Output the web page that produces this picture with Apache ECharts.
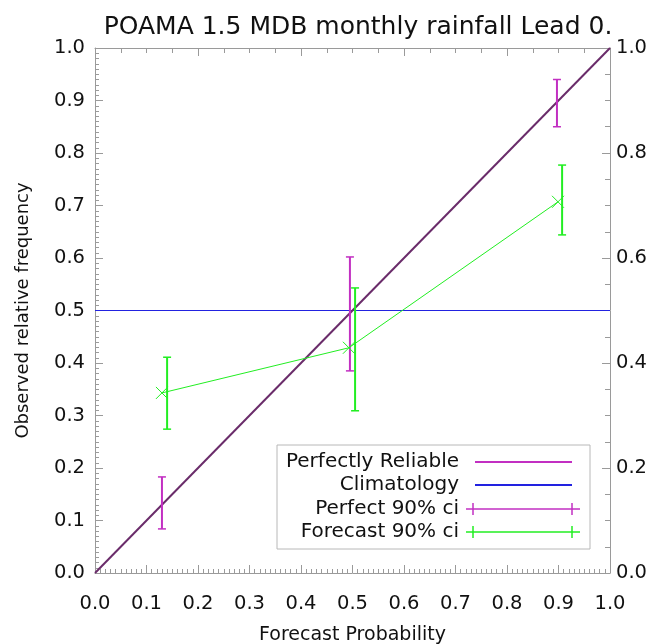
<!DOCTYPE html>
<html>
<head>
<meta charset="utf-8">
<script src="https://cdn.jsdelivr.net/npm/echarts@6/dist/echarts.min.js"></script>
<style>
html,body{margin:0;padding:0;background:#fff;}
#chart{width:652px;height:644px;}
</style>
</head>
<body>
<div id="chart"></div>
<script>
// ---- data ----
const forecastProb = [0.13, 0.493, 0.899];
const observedFreq = [0.343, 0.429, 0.707];
const forecastCiX = [0.14, 0.505, 0.907];
const forecastCiLow = [0.274, 0.309, 0.644];
const forecastCiHigh = [0.411, 0.543, 0.777];
const perfectCiX = [0.130, 0.495, 0.897];
const perfectCiLow = [0.084, 0.385, 0.850];
const perfectCiHigh = [0.183, 0.602, 0.940];
const diagonal = [[0, 0], [1, 1]];
const climatology = [[0, 0.5], [1, 0.5]];
const legendLabels = ['Perfectly Reliable', 'Climatology', 'Perfect 90% ci', 'Forecast 90% ci'];

const FONT = '"DejaVu Sans", Verdana, sans-serif';
const C_PERF = '#c22fc2';
const C_DIAG = '#6a2c6a';
const C_CLIM = '#2222e0';
const C_FC = '#22ee22';
const AX = '#9a9a9a';

function ciRender(color) {
  return function (params, api) {
    const x = api.value(0), lo = api.value(1), hi = api.value(2);
    const a = api.coord([x, lo]), b = api.coord([x, hi]);
    const w = 4;
    return {
      type: 'group',
      children: [
        {type: 'line', shape: {x1: a[0], y1: a[1], x2: b[0], y2: b[1]}, style: {stroke: color, lineWidth: 2}},
        {type: 'line', shape: {x1: a[0] - w, y1: a[1], x2: a[0] + w, y2: a[1]}, style: {stroke: color, lineWidth: 1.5}},
        {type: 'line', shape: {x1: b[0] - w, y1: b[1], x2: b[0] + w, y2: b[1]}, style: {stroke: color, lineWidth: 1.5}}
      ]
    };
  };
}
function xRender(color) {
  return function (params, api) {
    const p = api.coord([api.value(0), api.value(1)]);
    const s = 6;
    return {
      type: 'group',
      children: [
        {type: 'line', shape: {x1: p[0] - s, y1: p[1] - s, x2: p[0] + s, y2: p[1] + s}, style: {stroke: color, lineWidth: 1}},
        {type: 'line', shape: {x1: p[0] - s, y1: p[1] + s, x2: p[0] + s, y2: p[1] - s}, style: {stroke: color, lineWidth: 1}}
      ]
    };
  };
}

const chart = echarts.init(document.getElementById('chart'), null, {renderer: 'canvas'});

function mkAxis(extra, interval, split, majLen, minLen) {
  return Object.assign({
    type: 'value', min: 0, max: 1, interval: interval,
    axisLine: {show: true, onZero: false, lineStyle: {color: AX, width: 1}},
    splitLine: {show: false},
    axisTick: {show: true, inside: true, length: majLen, lineStyle: {color: AX}},
    minorTick: {show: true, splitNumber: split, length: minLen, lineStyle: {color: AX}}
  }, extra);
}
const labelStyle = {color: '#111', fontFamily: FONT, fontSize: 19.5, formatter: v => v.toFixed(1)};

// legend graphics
const LX = 459, LY = [462, 485, 509, 532];
const legendGraphics = [
  {type: 'rect', shape: {x: 277, y: 445, width: 313, height: 104}, style: {fill: '#fff', stroke: '#b8b8b8', lineWidth: 1}, z: 100}
];
legendLabels.forEach((t, i) => {
  legendGraphics.push({type: 'text', x: LX, y: LY[i], style: {text: t, fill: '#111', font: '20px ' + FONT, textAlign: 'right', textVerticalAlign: 'middle'}, z: 101});
});
legendGraphics.push({type: 'line', shape: {x1: 475, y1: LY[0], x2: 572, y2: LY[0]}, style: {stroke: C_PERF, lineWidth: 2}, z: 101});
legendGraphics.push({type: 'line', shape: {x1: 475, y1: LY[1], x2: 572, y2: LY[1]}, style: {stroke: C_CLIM, lineWidth: 2}, z: 101});
[[2, C_PERF], [3, C_FC]].forEach(([i, c]) => {
  legendGraphics.push({type: 'line', shape: {x1: 466, y1: LY[i], x2: 580, y2: LY[i]}, style: {stroke: c, lineWidth: 1.5}, z: 101});
  [473, 572].forEach(xx => legendGraphics.push({type: 'line', shape: {x1: xx, y1: LY[i] - 6, x2: xx, y2: LY[i] + 6}, style: {stroke: c, lineWidth: 1.5}, z: 101}));
});

chart.setOption({
  backgroundColor: '#fff',
  animation: false,
  title: {
    text: 'POAMA 1.5 MDB monthly rainfall Lead 0.',
    left: 353, top: 10, textAlign: 'center',
    textStyle: {fontFamily: FONT, fontSize: 25, fontWeight: 'normal', color: '#111'}
  },
  grid: {left: 95, right: 42, top: 48, bottom: 71, containLabel: false, outerBoundsMode: 'none'},
  xAxis: [
    mkAxis({
      position: 'bottom',
      axisLabel: Object.assign({}, labelStyle, {margin: 21}),
      name: 'Forecast Probability', nameLocation: 'middle', nameGap: 53,
      nameTextStyle: {fontFamily: FONT, fontSize: 19, color: '#111'}
    }, 0.1, 10, 8, 4),
    mkAxis({position: 'top', axisLabel: {show: false}}, 0.2, 4, 8, 5)
  ],
  yAxis: [
    mkAxis({
      position: 'left',
      axisLabel: Object.assign({}, labelStyle, {margin: 10}),
      name: 'Observed relative frequency', nameLocation: 'middle', nameGap: 63, nameRotate: 90,
      nameTextStyle: {fontFamily: FONT, fontSize: 18, color: '#111'}
    }, 0.1, 10, 8, 4),
    mkAxis({
      position: 'right',
      axisLabel: Object.assign({}, labelStyle, {margin: 6})
    }, 0.2, 4, 8, 5)
  ],
  graphic: legendGraphics,
  series: [
    {type: 'line', data: climatology, symbol: 'none', lineStyle: {color: C_CLIM, width: 1.2}, itemStyle: {color: C_CLIM}, z: 2},
    {type: 'line', data: diagonal, symbol: 'none', lineStyle: {color: C_DIAG, width: 2}, itemStyle: {color: C_DIAG}, z: 3},
    {type: 'custom', renderItem: ciRender(C_PERF), data: perfectCiX.map((x, i) => [x, perfectCiLow[i], perfectCiHigh[i]]), z: 4},
    {type: 'line', data: forecastProb.map((x, i) => [x, observedFreq[i]]), symbol: 'none', lineStyle: {color: C_FC, width: 1}, itemStyle: {color: C_FC}, z: 5},
    {type: 'custom', renderItem: xRender(C_FC), data: forecastProb.map((x, i) => [x, observedFreq[i]]), z: 6},
    {type: 'custom', renderItem: ciRender(C_FC), data: forecastCiX.map((x, i) => [x, forecastCiLow[i], forecastCiHigh[i]]), z: 7}
  ]
});
</script>
</body>
</html>
